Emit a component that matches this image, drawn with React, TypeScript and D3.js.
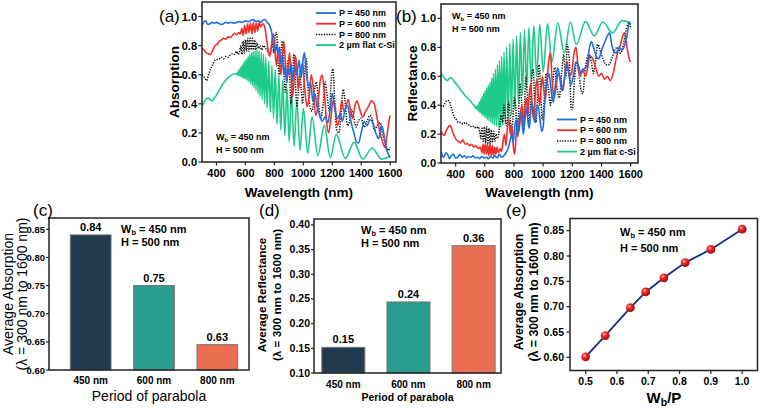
import React from 'react';
import * as d3 from 'd3';

const FONT = 'Liberation Sans, Arial, Helvetica, sans-serif';

// ---------- Panel (a): absorption spectra ----------
const absP450: [number, number][] = [[300,0.93],[310,0.96],[325,0.97],[340,0.945],[355,0.95],[370,0.96],[385,0.955],[400,0.96],[420,0.95],[440,0.945],[460,0.96],[480,0.955],[500,0.96],[520,0.955],[540,0.96],[560,0.965],[580,0.96],[600,0.97],[620,0.965],[640,0.975],[655,0.98],[670,0.965],[690,0.97],[705,0.96],[720,0.975],[735,0.98],[750,0.96],[765,0.945],[780,0.9],[795,0.8],[805,0.76],[815,0.81],[825,0.74],[835,0.79],[845,0.68],[855,0.73],[865,0.6],[875,0.66],[885,0.55],[895,0.64],[905,0.6],[915,0.68],[925,0.56],[940,0.66],[955,0.6],[970,0.7],[985,0.58],[1000,0.72],[1008,0.75],[1020,0.62],[1035,0.52],[1050,0.55],[1065,0.42],[1080,0.47],[1095,0.38],[1110,0.33],[1130,0.28],[1150,0.31],[1170,0.27],[1185,0.36],[1200,0.47],[1215,0.38],[1235,0.3],[1255,0.33],[1270,0.28],[1290,0.37],[1305,0.39],[1320,0.32],[1335,0.25],[1350,0.2],[1365,0.14],[1380,0.13],[1400,0.2],[1420,0.28],[1440,0.25],[1460,0.29],[1480,0.27],[1500,0.2],[1520,0.16],[1540,0.25],[1555,0.2],[1570,0.1],[1585,0.06],[1600,0.03]];
const absP600: [number, number][] = [[300,0.78],[315,0.77],[330,0.75],[345,0.745],[360,0.74],[375,0.77],[390,0.8],[405,0.81],[420,0.83],[435,0.84],[450,0.85],[465,0.845],[480,0.86],[495,0.855],[510,0.87],[525,0.885],[540,0.875],[555,0.89],[565,0.88],[575,0.92],[585,0.87],[595,0.94],[605,0.88],[615,0.95],[625,0.89],[635,0.955],[645,0.88],[655,0.96],[665,0.89],[675,0.955],[685,0.9],[695,0.96],[705,0.93],[720,0.95],[735,0.92],[745,0.85],[755,0.78],[765,0.73],[775,0.76],[785,0.85],[795,0.88],[805,0.75],[815,0.66],[825,0.78],[835,0.7],[845,0.6],[855,0.72],[865,0.83],[875,0.7],[885,0.55],[895,0.66],[905,0.75],[915,0.6],[925,0.45],[935,0.55],[945,0.73],[955,0.65],[965,0.5],[980,0.62],[995,0.68],[1010,0.5],[1025,0.38],[1040,0.45],[1055,0.6],[1070,0.5],[1085,0.32],[1100,0.38],[1115,0.55],[1130,0.6],[1145,0.48],[1160,0.28],[1175,0.2],[1190,0.3],[1205,0.42],[1220,0.38],[1235,0.25],[1250,0.3],[1265,0.42],[1280,0.35],[1295,0.38],[1310,0.43],[1325,0.36],[1340,0.3],[1355,0.38],[1370,0.42],[1390,0.36],[1410,0.31],[1430,0.35],[1450,0.38],[1470,0.42],[1490,0.4],[1510,0.3],[1530,0.2],[1550,0.13],[1565,0.1],[1580,0.2],[1595,0.3],[1600,0.32]];
const absP800: [number, number][] = [[300,0.6],[310,0.59],[320,0.575],[332,0.56],[345,0.6],[360,0.64],[375,0.67],[390,0.7],[405,0.705],[420,0.71],[435,0.72],[450,0.71],[465,0.725],[480,0.72],[495,0.735],[510,0.745],[525,0.74],[540,0.76],[550,0.74],[560,0.76],[568,0.8],[576,0.74],[584,0.83],[592,0.75],[600,0.84],[608,0.76],[616,0.85],[624,0.76],[632,0.85],[640,0.77],[648,0.85],[656,0.77],[664,0.84],[672,0.77],[680,0.82],[690,0.78],[700,0.8],[712,0.77],[725,0.8],[740,0.78],[755,0.76],[770,0.73],[785,0.82],[795,0.75],[805,0.86],[815,0.89],[825,0.7],[835,0.6],[845,0.75],[855,0.83],[865,0.65],[875,0.48],[885,0.56],[895,0.7],[905,0.58],[915,0.4],[925,0.55],[935,0.74],[945,0.55],[955,0.38],[965,0.48],[975,0.62],[985,0.5],[995,0.4],[1005,0.55],[1020,0.71],[1030,0.55],[1045,0.38],[1060,0.35],[1075,0.48],[1090,0.55],[1105,0.4],[1120,0.3],[1135,0.38],[1150,0.55],[1165,0.45],[1180,0.35],[1195,0.6],[1205,0.64],[1215,0.45],[1230,0.22],[1245,0.2],[1260,0.32],[1275,0.5],[1290,0.4],[1305,0.25],[1320,0.28],[1335,0.36],[1350,0.3],[1365,0.24],[1380,0.28],[1400,0.3],[1420,0.24],[1440,0.28],[1460,0.32],[1475,0.3],[1490,0.22],[1510,0.25],[1530,0.27],[1550,0.18],[1570,0.12],[1585,0.08],[1600,0.1]];
const absFlat: [number, number][] = [[300,0.38],[315,0.41],[330,0.435],[345,0.44],[360,0.425],[370,0.42],[385,0.44],[400,0.46],[425,0.505],[450,0.545],[475,0.575],[500,0.595],[520,0.605],[532,0.605],
  [540,0.61],[544,0.6],[549,0.62],[553,0.595],[558,0.635],[562,0.59],[567,0.65],[572,0.585],[577,0.665],[582,0.58],[587,0.68],[592,0.575],[597,0.695],[602,0.57],[608,0.71],[613,0.56],[619,0.725],[624,0.55],[630,0.74],[636,0.54],[642,0.75],[648,0.525],[654,0.76],[660,0.51],[667,0.765],[673,0.49],[680,0.77],[687,0.47],[694,0.765],[701,0.45],[709,0.755],[716,0.43],[724,0.74],[732,0.4],[740,0.72],[750,0.37],[761,0.695],[772,0.34],[783,0.665],[794,0.3],[806,0.635],[818,0.26],[831,0.6],[844,0.22],[858,0.56],[872,0.18],[887,0.51],[902,0.14],[918,0.47],[936,0.11],[955,0.42],[977,0.08],[1000,0.37],[1030,0.06],[1060,0.31],[1100,0.045],[1145,0.25],[1186,0.03],[1228,0.19],[1290,0.025],[1350,0.135],[1410,0.02],[1475,0.095],[1540,0.02],[1600,0.04]];

// ---------- Panel (b): reflectance spectra ----------
const refP450: [number, number][] = [[300,0.08],[310,0.05],[320,0.04],[332,0.07],[345,0.06],[358,0.03],[370,0.05],[385,0.06],[400,0.035],[415,0.04],[430,0.06],[445,0.04],[460,0.05],[475,0.035],[490,0.045],[505,0.04],[520,0.05],[535,0.035],[550,0.04],[565,0.03],[580,0.045],[595,0.035],[610,0.04],[625,0.03],[640,0.045],[655,0.035],[670,0.05],[685,0.035],[700,0.06],[715,0.04],[730,0.05],[745,0.07],[760,0.1],[775,0.16],[785,0.2],[795,0.14],[805,0.25],[815,0.3],[825,0.18],[835,0.25],[845,0.35],[855,0.28],[865,0.2],[875,0.3],[885,0.38],[895,0.3],[905,0.24],[915,0.35],[925,0.42],[935,0.32],[945,0.28],[955,0.38],[965,0.4],[975,0.33],[990,0.22],[1000,0.25],[1010,0.4],[1025,0.55],[1040,0.62],[1055,0.5],[1070,0.42],[1085,0.55],[1100,0.66],[1115,0.58],[1130,0.5],[1145,0.58],[1160,0.68],[1175,0.62],[1190,0.54],[1210,0.62],[1225,0.7],[1240,0.68],[1260,0.62],[1280,0.65],[1300,0.67],[1315,0.78],[1330,0.84],[1345,0.8],[1360,0.75],[1380,0.72],[1400,0.78],[1420,0.83],[1440,0.88],[1455,0.9],[1470,0.82],[1485,0.77],[1500,0.76],[1520,0.8],[1540,0.78],[1560,0.82],[1575,0.88],[1590,0.97],[1600,0.96]];
const refP600: [number, number][] = [[300,0.22],[310,0.2],[322,0.19],[335,0.22],[350,0.25],[362,0.26],[375,0.23],[390,0.19],[405,0.16],[420,0.15],[435,0.14],[450,0.16],[465,0.13],[480,0.135],[495,0.12],[510,0.13],[525,0.11],[540,0.12],[555,0.1],[570,0.11],[580,0.07],[588,0.13],[596,0.06],[604,0.14],[612,0.06],[620,0.13],[628,0.05],[636,0.13],[644,0.05],[652,0.12],[660,0.05],[668,0.11],[676,0.06],[684,0.11],[694,0.07],[705,0.1],[715,0.08],[725,0.15],[735,0.2],[745,0.12],[755,0.25],[765,0.3],[775,0.2],[785,0.26],[795,0.12],[805,0.06],[815,0.2],[825,0.3],[835,0.22],[845,0.35],[855,0.4],[865,0.25],[875,0.38],[885,0.45],[895,0.33],[905,0.48],[915,0.55],[925,0.4],[935,0.3],[945,0.45],[955,0.58],[965,0.5],[975,0.4],[985,0.5],[995,0.6],[1005,0.5],[1015,0.44],[1025,0.55],[1040,0.72],[1050,0.76],[1060,0.6],[1075,0.45],[1090,0.55],[1105,0.62],[1120,0.58],[1135,0.5],[1150,0.62],[1165,0.7],[1180,0.6],[1195,0.62],[1210,0.75],[1225,0.8],[1240,0.66],[1255,0.6],[1270,0.65],[1290,0.6],[1305,0.66],[1320,0.74],[1340,0.72],[1360,0.66],[1380,0.6],[1400,0.62],[1420,0.58],[1440,0.6],[1460,0.57],[1480,0.62],[1500,0.72],[1515,0.78],[1530,0.82],[1545,0.88],[1560,0.9],[1575,0.8],[1590,0.72],[1600,0.7]];
const refP800: [number, number][] = [[300,0.4],[312,0.39],[325,0.41],[340,0.43],[355,0.43],[365,0.4],[378,0.36],[390,0.32],[405,0.3],[420,0.28],[435,0.28],[450,0.27],[465,0.28],[480,0.27],[495,0.26],[510,0.25],[525,0.255],[540,0.24],[555,0.25],[565,0.22],[573,0.17],[581,0.24],[589,0.15],[597,0.25],[605,0.14],[613,0.25],[621,0.13],[629,0.24],[637,0.13],[645,0.23],[653,0.14],[661,0.22],[669,0.15],[677,0.2],[688,0.17],[700,0.24],[712,0.33],[722,0.28],[732,0.4],[742,0.3],[752,0.26],[762,0.42],[772,0.35],[782,0.2],[792,0.3],[802,0.45],[812,0.38],[822,0.2],[832,0.35],[842,0.55],[852,0.42],[862,0.25],[872,0.4],[882,0.6],[892,0.45],[902,0.25],[912,0.38],[922,0.6],[932,0.65],[942,0.4],[952,0.28],[962,0.5],[972,0.68],[982,0.5],[995,0.3],[1008,0.45],[1020,0.62],[1035,0.52],[1050,0.4],[1065,0.55],[1080,0.66],[1095,0.52],[1110,0.45],[1125,0.6],[1140,0.75],[1155,0.6],[1165,0.82],[1180,0.7],[1192,0.38],[1200,0.37],[1215,0.58],[1230,0.7],[1245,0.62],[1260,0.5],[1272,0.48],[1285,0.62],[1300,0.72],[1315,0.75],[1330,0.7],[1345,0.62],[1360,0.72],[1375,0.82],[1390,0.78],[1410,0.72],[1430,0.68],[1450,0.68],[1470,0.72],[1490,0.78],[1510,0.8],[1530,0.76],[1550,0.82],[1565,0.9],[1580,0.96],[1590,0.97],[1600,0.93]];
const refFlat: [number, number][] = [[300,0.62],[315,0.6],[330,0.58],[345,0.57],[360,0.59],[372,0.59],[390,0.565],[410,0.54],[440,0.5],[470,0.46],[500,0.43],[520,0.405],[532,0.39],
  [540,0.375],[544,0.39],[549,0.37],[553,0.4],[558,0.36],[562,0.42],[567,0.35],[572,0.44],[577,0.34],[582,0.46],[587,0.33],[592,0.48],[597,0.32],[602,0.5],[608,0.31],[613,0.52],[619,0.3],[624,0.54],[630,0.29],[636,0.56],[642,0.28],[648,0.59],[654,0.27],[660,0.62],[667,0.26],[673,0.65],[680,0.255],[687,0.68],[694,0.25],[701,0.71],[709,0.25],[716,0.74],[724,0.26],[732,0.77],[740,0.27],[750,0.8],[761,0.3],[772,0.83],[783,0.33],[794,0.86],[806,0.37],[818,0.88],[831,0.42],[844,0.9],[858,0.47],[872,0.92],[887,0.52],[902,0.935],[918,0.56],[936,0.95],[955,0.6],[977,0.96],[1000,0.63],[1030,0.965],[1060,0.7],[1100,0.97],[1145,0.76],[1186,0.975],[1228,0.82],[1290,0.98],[1350,0.88],[1410,0.975],[1475,0.9],[1540,0.985],[1600,0.97]];

const wavelengthTicks = [400, 600, 800, 1000, 1200, 1400, 1600];
const fractionTicks = [0, 0.2, 0.4, 0.6, 0.8, 1.0];
const seriesNames = ['P = 450 nm', 'P = 600 nm', 'P = 800 nm', '2 \u00b5m flat c-Si'];

// ---------- Panels (c), (d): averages by period ----------
const periods = ['450 nm', '600 nm', '800 nm'];
const avgAbsorption = [0.84, 0.75, 0.645];
const avgAbsorptionLabels = ['0.84', '0.75', '0.63'];
const avgReflectance = [0.152, 0.244, 0.358];
const avgReflectanceLabels = ['0.15', '0.24', '0.36'];
const absTicks = [0.6, 0.65, 0.7, 0.75, 0.8, 0.85];
const refTicks = [0.1, 0.15, 0.2, 0.25, 0.3, 0.35, 0.4];

// ---------- Panel (e): average absorption vs Wb/P ----------
const ratioWbP = [0.5, 0.5625, 0.643, 0.692, 0.75, 0.818, 0.9, 1.0];
const ratioAbsorption = [0.601, 0.643, 0.698, 0.729, 0.757, 0.787, 0.813, 0.853];
const ratioTicks = [0.5, 0.6, 0.7, 0.8, 0.9, 1.0];

const COLORS = { blue: '#1f6fde', red: '#f0302c', black: '#111111', green: '#1fcb8b' };
const barColors = ['#1f3b4d', '#2a9d8f', '#ec6e52'];

type Pt = [number, number];

function Frame({ x0, x1, y0, y1 }: { x0: number; x1: number; y0: number; y1: number }) {
  return <rect x={x0} y={y0} width={x1 - x0} height={y1 - y0} fill="none" stroke="#222" strokeWidth={1.5} />;
}

function SpectrumPanel(props: {
  x: d3.ScaleLinear<number, number>; y: d3.ScaleLinear<number, number>;
  series: Pt[][]; id: string; legendX: number; legendY: number; annX: number; annY: number;
  title: string; titleX: number; panel: string; panelX: number;
}) {
  const { x, y, series, id } = props;
  const [x0, x1] = x.range();
  const [y1, y0] = y.range();
  const line = d3.line<Pt>().x(d => x(d[0])).y(d => y(d[1])).curve(d3.curveMonotoneX);
  const colors = [COLORS.blue, COLORS.red, COLORS.black, COLORS.green];
  const order = [3, 2, 1, 0];
  return (
    <g>
      <defs>
        <clipPath id={id}><rect x={x0} y={y0} width={x1 - x0} height={y1 - y0} /></clipPath>
      </defs>
      <g clipPath={`url(#${id})`}>
        {order.map(i => (
          <path key={i} d={line(series[i]) || ''} fill="none" stroke={colors[i]}
            strokeWidth={i === 2 ? 1.5 : 1.6} strokeDasharray={i === 2 ? '1.3 1.3' : undefined} strokeLinejoin="round" />
        ))}
      </g>
      <Frame x0={x0} x1={x1} y0={y0} y1={y1} />
      {wavelengthTicks.map(t => (
        <g key={t}>
          <line x1={x(t)} x2={x(t)} y1={y1} y2={y1 + 3.5} stroke="#222" strokeWidth={1.2} />
          <text x={x(t)} y={y1 + 15} textAnchor="middle" fontSize={11} fontWeight="bold" fontFamily={FONT}>{t}</text>
        </g>
      ))}
      {fractionTicks.map(t => (
        <g key={t}>
          <line x1={x0 - 3.5} x2={x0} y1={y(t)} y2={y(t)} stroke="#222" strokeWidth={1.2} />
          <text x={x0 - 5} y={y(t) + 4} textAnchor="end" fontSize={11} fontWeight="bold" fontFamily={FONT}>{t.toFixed(1)}</text>
        </g>
      ))}
      <text x={(x0 + x1) / 2} y={197} textAnchor="middle" fontSize={13.5} fontWeight="bold" fontFamily={FONT}>Wavelength (nm)</text>
      <text transform={`translate(${props.titleX},${(y0 + y1) / 2}) rotate(-90)`} textAnchor="middle" fontSize={13.5} fontWeight="bold" fontFamily={FONT}>{props.title}</text>
      <text x={props.panelX} y={22} fontSize={17} fontFamily={FONT}>{props.panel}</text>
      {seriesNames.map((n, i) => (
        <g key={n}>
          <line x1={props.legendX} x2={props.legendX + 20} y1={props.legendY + i * 10.7} y2={props.legendY + i * 10.7}
            stroke={colors[i]} strokeWidth={i === 2 ? 1.5 : 1.8} strokeDasharray={i === 2 ? '1.3 1.3' : undefined} />
          <text x={props.legendX + 23} y={props.legendY + i * 10.7 + 3.2} fontSize={9} fontWeight="bold" fontFamily={FONT}>{n}</text>
        </g>
      ))}
      <text x={props.annX} y={props.annY} fontSize={9} fontWeight="bold" fontFamily={FONT}>W<tspan fontSize={6} dy={1.5}>b</tspan><tspan dy={-1.5}> = 450 nm</tspan></text>
      <text x={props.annX} y={props.annY + 12.5} fontSize={9} fontWeight="bold" fontFamily={FONT}>H = 500 nm</text>
    </g>
  );
}

function BarPanel(props: {
  values: number[]; labels: string[]; ticks: number[];
  x: d3.ScaleLinear<number, number>; y: d3.ScaleLinear<number, number>; barW: number; tickSize: number;
  yTitle1: string; t1x: number; t2x: number; t1Bold: boolean; t1Size: number; titleCy: number;
  xTitle: string; xTitleSize: number; xTitleBold: boolean; catY: number;
  annX: number; annY: number; panel: string; panelX: number;
}) {
  const { x, y, values } = props;
  const [x0, x1] = x.range();
  const [y1, y0] = y.range();
  const w = (x(props.barW) - x(0));
  return (
    <g>
      {values.map((v, i) => (
        <g key={i}>
          <rect x={x(i) - w / 2} y={y(v)} width={w} height={y1 - y(v)} fill={barColors[i]} stroke="#777" strokeWidth={1} />
          <text x={x(i)} y={y(v) - 4} textAnchor="middle" fontSize={11} fontWeight="bold" fontFamily={FONT}>{props.labels[i]}</text>
          <text x={x(i)} y={props.catY} textAnchor="middle" fontSize={10} fontWeight="bold" fontFamily={FONT}>{periods[i]}</text>
        </g>
      ))}
      <Frame x0={x0} x1={x1} y0={y0} y1={y1} />
      {props.ticks.map(t => (
        <g key={t}>
          <line x1={x0 - 3} x2={x0} y1={y(t)} y2={y(t)} stroke="#222" strokeWidth={1.2} />
          <text x={x0 - 4} y={y(t) + 3.5} textAnchor="end" fontSize={props.tickSize} fontWeight="bold" fontFamily={FONT}>{t.toFixed(2)}</text>
        </g>
      ))}
      <text transform={`translate(${props.t1x},${props.titleCy}) rotate(-90)`} textAnchor="middle" dominantBaseline="central"
        fontSize={props.t1Size} fontWeight={props.t1Bold ? 'bold' : 'normal'} fontFamily={FONT}>{props.yTitle1}</text>
      <text transform={`translate(${props.t2x},${props.titleCy}) rotate(-90)`} textAnchor="middle" dominantBaseline="central"
        fontSize={props.t1Size} fontWeight={props.t1Bold ? 'bold' : 'normal'} fontFamily={FONT}>({'\u03bb'} = 300 nm to 1600 nm)</text>
      <text x={(x0 + x1) / 2} y={401} textAnchor="middle" fontSize={props.xTitleSize} fontWeight={props.xTitleBold ? 'bold' : 'normal'} fontFamily={FONT}>{props.xTitle}</text>
      <text x={props.annX} y={props.annY} fontSize={11} fontWeight="bold" fontFamily={FONT}>W<tspan fontSize={7.5} dy={2}>b</tspan><tspan dy={-2}> = 450 nm</tspan></text>
      <text x={props.annX} y={props.annY + 13} fontSize={11} fontWeight="bold" fontFamily={FONT}>H = 500 nm</text>
      <text x={props.panelX} y={216} fontSize={17} fontFamily={FONT}>{props.panel}</text>
    </g>
  );
}

export default function App() {
  const xA = d3.scaleLinear().domain([300, 1640]).range([202, 396]);
  const yA = d3.scaleLinear().domain([0, 1.1]).range([162, 2]);
  const xB = d3.scaleLinear().domain([300, 1650]).range([441, 638]);
  const yB = d3.scaleLinear().domain([0, 1.1]).range([163, 4]);

  const xC = d3.scaleLinear().domain([-0.658, 2.5]).range([49, 249]);
  const yC = d3.scaleLinear().domain([0.6, 0.87]).range([370, 218]);
  const xD = d3.scaleLinear().domain([-0.45, 2.42]).range([314, 501]);
  const yD = d3.scaleLinear().domain([0.1, 0.412]).range([373, 219]);

  const xE = d3.scaleLinear().domain([0.45, 1.049]).range([570, 757.5]);
  const yE = d3.scaleLinear().domain([0.574, 0.874]).range([370.5, 218.5]);
  const linePts: Pt[] = ratioWbP.map((r, i) => [r, ratioAbsorption[i]]);
  const lineE = d3.line<Pt>().x(d => xE(d[0])).y(d => yE(d[1]));

  return (
    <svg width={760} height={408} style={{ position: 'absolute', left: 0, top: 0, background: '#fff' }}>
      <defs>
        <radialGradient id="ball" cx="38%" cy="35%" r="65%">
          <stop offset="0%" stopColor="#ffd0d0" />
          <stop offset="35%" stopColor="#f22b2b" />
          <stop offset="100%" stopColor="#a80808" />
        </radialGradient>
      </defs>
      <rect x={0} y={0} width={760} height={408} fill="#fff" />
      <SpectrumPanel x={xA} y={yA} series={[absP450, absP600, absP800, absFlat]} id="clipA"
        legendX={316} legendY={13} annX={216} annY={140} title="Absorption" titleX={179} panel="(a)" panelX={159} />
      <SpectrumPanel x={xB} y={yB} series={[refP450, refP600, refP800, refFlat]} id="clipB"
        legendX={557} legendY={119.5} annX={452} annY={19} title="Reflectance" titleX={417} panel="(b)" panelX={396} />

      <BarPanel values={avgAbsorption} labels={avgAbsorptionLabels} ticks={absTicks} x={xC} y={yC} barW={0.643} tickSize={9.5}
        yTitle1="Average Absorption" t1x={8} t2x={22} t1Bold={false} t1Size={14} titleCy={294}
        xTitle="Period of parabola" xTitleSize={14} xTitleBold={false} catY={384}
        annX={121} annY={233} panel="(c)" panelX={33} />
      <BarPanel values={avgReflectance} labels={avgReflectanceLabels} ticks={refTicks} x={xD} y={yD} barW={0.66} tickSize={10.5}
        yTitle1="Average Reflectance" t1x={261} t2x={276} t1Bold={true} t1Size={11.7} titleCy={295}
        xTitle="Period of parabola" xTitleSize={10.5} xTitleBold={true} catY={388}
        annX={361} annY={234} panel="(d)" panelX={259} />

      <g>
        <path d={lineE(linePts) || ''} fill="none" stroke="#1b2a8c" strokeWidth={1.8} />
        {linePts.map((p, i) => (
          <circle key={i} cx={xE(p[0])} cy={yE(p[1])} r={4.4} fill="url(#ball)" />
        ))}
        <Frame x0={570} x1={757.5} y0={218.5} y1={370.5} />
        {ratioTicks.map(t => (
          <g key={t}>
            <line x1={xE(t)} x2={xE(t)} y1={370.5} y2={374} stroke="#222" strokeWidth={1.2} />
            <text x={xE(t)} y={385} textAnchor="middle" fontSize={10.5} fontWeight="bold" fontFamily={FONT}>{t.toFixed(1)}</text>
          </g>
        ))}
        {absTicks.map(t => (
          <g key={t}>
            <line x1={566.5} x2={570} y1={yE(t)} y2={yE(t)} stroke="#222" strokeWidth={1.2} />
            <text x={564} y={yE(t) + 3.8} textAnchor="end" fontSize={10.5} fontWeight="bold" fontFamily={FONT}>{t.toFixed(2)}</text>
          </g>
        ))}
        <text transform="translate(519,292) rotate(-90)" textAnchor="middle" dominantBaseline="central" fontSize={12.3} fontWeight="bold" fontFamily={FONT}>Average Absorption</text>
        <text transform="translate(534,292) rotate(-90)" textAnchor="middle" dominantBaseline="central" fontSize={12.3} fontWeight="bold" fontFamily={FONT}>({'\u03bb'} = 300 nm to 1600 nm)</text>
        <text x={664} y={403} textAnchor="middle" fontSize={15} fontWeight="bold" fontFamily={FONT}>W<tspan fontSize={10.5} dy={3}>b</tspan><tspan dy={-3}>/P</tspan></text>
        <text x={620} y={236} fontSize={11} fontWeight="bold" fontFamily={FONT}>W<tspan fontSize={7.5} dy={2}>b</tspan><tspan dy={-2}> = 450 nm</tspan></text>
        <text x={620} y={251.5} fontSize={11} fontWeight="bold" fontFamily={FONT}>H = 500 nm</text>
        <text x={506} y={216} fontSize={17} fontFamily={FONT}>(e)</text>
      </g>
    </svg>
  );
}
